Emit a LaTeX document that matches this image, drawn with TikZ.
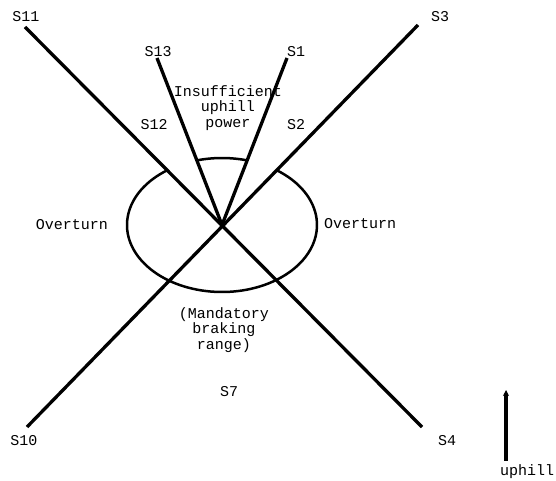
\documentclass[tikz,border=0pt]{standalone}
\usepackage{fontspec}
\setmonofont{Liberation Mono}
\usetikzlibrary{arrows.meta}
\begin{document}
\begin{tikzpicture}[x=1pt,y=1pt,
        lbl/.style={font=\ttfamily\fontsize{15}{15.5}\selectfont,inner sep=0pt,align=center},
        beam/.style={line width=3.3pt,black},
        rim/.style={line width=2.5pt,black}]
        \useasboundingbox (0,0) rectangle (556,480);
        % centre and free ends of the lines
        \coordinate (c) at (222,255);
        \coordinate (e11) at (25,453);
        \coordinate (e4) at (422,53);
        \coordinate (e3) at (418,455);
        \coordinate (e10) at (27,53);
        \coordinate (e13) at (157,422);
        \coordinate (e1) at (287,422);
        \draw [beam] (e11) -- (e4);
        \draw [beam] (e3) -- (e10);
        \draw [beam] (e13) -- (c);
        \draw [beam] (e1) -- (c);
        % ellipse, open between the lines at the top
        \draw [rim] ([shift={(125.2:95 and 67)}]c) arc [start angle=125.2,end angle=414.8,x radius=95,y radius=67];
        \draw [rim] ([shift={(74.6:95 and 67)}]c) arc [start angle=74.6,end angle=105.4,x radius=95,y radius=67];
        \node [lbl] (s11) at (26,463) {S11};
        \node [lbl] (s13) at (158,428) {S13};
        \node [lbl] (s1) at (296,428) {S1};
        \node [lbl] (s3) at (440,463) {S3};
        \node [lbl] (s12) at (154,355) {S12};
        \node [lbl] (s2) at (296,355) {S2};
        \node [lbl] (power) at (228,372) {Insufficient\\uphill\\power};
        \node [lbl] (overl) at (72,255) {Overturn};
        \node [lbl] (overr) at (360,256) {Overturn};
        \node [lbl] (brake) at (224,150) {(Mandatory\\braking\\range)};
        \node [lbl] (s7) at (229,88) {S7};
        \node [lbl] (s10) at (24,39) {S10};
        \node [lbl] (s4) at (447,39) {S4};
        \node [lbl] (uphill) at (527,8) {uphill};
        \coordinate (tip) at (506,90);
        \draw [beam,-{Stealth[length=6pt,width=6pt]}] ([yshift=4pt]uphill.north -| tip) -- (tip);
\end{tikzpicture}
\end{document}
